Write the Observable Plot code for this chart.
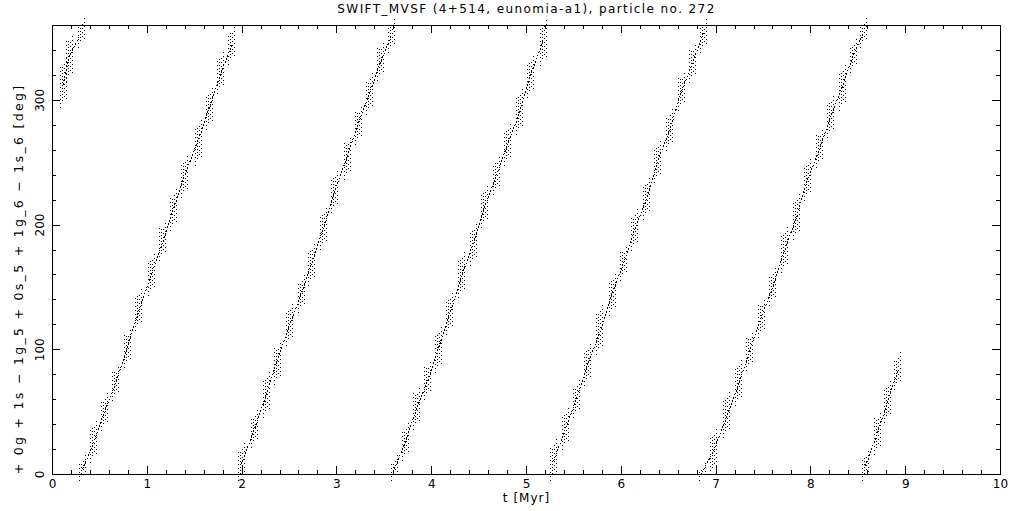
<!DOCTYPE html>
<html><head><meta charset="utf-8">
<script src="https://cdn.jsdelivr.net/npm/d3@7"></script>
<script src="https://cdn.jsdelivr.net/npm/@observablehq/plot@0.6"></script>
<style>
body{margin:0;background:#fff}
svg{display:block}
</style>
</head><body><div id="chart"></div>
<script>
const titleText = "SWIFT_MVSF (4+514, eunomia-a1), particle no. 272";
const xLabel = "t [Myr]";
const yLabel = "+ 0g + 1s \u2212 1g_5 + 0s_5 + 1g_6 \u2212 1s_6 [deg]";
const xMajorTicks = [0,1,2,3,4,5,6,7,8,9,10];
const yMajorTicks = [0,100,200,300];
const xMinorTicks = d3.range(0, 10.001, 0.2).filter(v => Math.abs(v - Math.round(v)) > 1e-6);
const yMinorTicks = d3.range(0, 360.001, 20).filter(v => v % 100 !== 0);

// clusters of points: band, time (Myr), centre angle, lowest and highest angle (deg)
const clusterBand = [
  1,1,1,
  2,2,2,2,2,2,2,2,2,2,2,2,2,2,
  3,3,3,3,3,3,3,3,3,3,3,3,3,3,
  4,4,4,4,4,4,4,4,4,4,4,4,4,4,
  5,5,5,5,5,5,5,5,5,5,5,5,5,5,
  6,6,6,6,6,6,6,6,6,6,6,6,6,6,6,
  7,7,7,7
];
const clusterT = [
  0.113,0.176,0.303,
  0.320,0.430,0.553,0.666,0.789,0.912,1.047,1.163,1.276,1.388,1.536,1.656,1.776,1.889,
  1.994,2.131,2.254,2.370,2.500,2.624,2.733,2.855,2.979,3.108,3.224,3.344,3.460,3.577,
  3.607,3.723,3.840,3.959,4.069,4.192,4.311,4.438,4.558,4.683,4.803,4.930,5.042,5.176,
  5.288,5.411,5.527,5.647,5.774,5.903,6.027,6.139,6.266,6.385,6.512,6.632,6.755,6.864,
  6.854,6.976,7.110,7.240,7.356,7.476,7.598,7.722,7.849,7.961,8.094,8.207,8.330,8.446,8.551,
  8.576,8.700,8.812,8.917
];
const clusterDeg = [
  313,335,354,
  4.6,24.6,51.3,72.7,102,131.5,161,186.3,213,238.5,268,294.6,321.4,344,
  8.6,36.6,63.4,91.4,119.5,145,169,197,227.8,254.5,281.3,305.3,330.7,352,
  4.6,26,52.7,75.4,100.8,128.9,158.3,185,214.4,239.8,265.3,290.6,320,348,
  11.2,36.6,60.7,88.8,114,145,170.3,195.7,221,251.9,276,306.7,330.7,353.5,
  2,19.3,46,72.7,99.5,126.2,150.2,179.7,206.4,235.8,261.2,286.6,310.7,336,354,
  7.2,32.6,59.4,83.4
];
const clusterLo = [
  300,321,348,
  0.5,15,40.6,64.7,91.4,120.9,149,177,201,227.8,253,282.6,310.7,334.7,
  0.5,27.3,51.3,78,108.8,135.6,157,186.3,215.8,242.5,270.6,294.6,321.4,344,
  0.5,16.6,42,66,87.4,118.2,147.6,173,203.7,230.5,253,278.6,308,333.4,
  0.5,26,51.3,76.8,102,132.9,161,185,210.4,239.8,265.3,297.4,320,344,
  0.5,5.9,35.3,60.7,88.8,115.5,140.9,167.6,194.4,225,251.9,276,297.4,328,348,
  0.5,21.9,47.3,74
];
const clusterHi = [
  327,347,359,
  9,38,59.4,82,111.5,143.6,171.7,197,222.4,250.5,278.6,304,333.4,353.5,
  19.3,46,76.8,100.8,131.5,153,179.7,207.7,238.5,265.3,290.6,314.7,341.4,359.4,
  9.9,35.3,64.7,86,111.5,139.6,171.7,195.7,225,249.2,276,302.6,330.7,358.8,
  21.9,47.3,70,99.5,128.9,155.6,178.3,206.4,231.8,262.5,286.6,317.4,340,359.4,
  3.5,30,59.4,86,108.8,135.6,159.6,191.7,218.4,247.9,271.9,297.4,321.4,344,358.8,
  13.9,44.7,70,91.4
];

const clusters = clusterT.map((t, i) => ({
  band: clusterBand[i], t, deg: clusterDeg[i], lo: clusterLo[i], hi: clusterHi[i]
}));

const W = 1021, H = 511;
const mL = 52, mR = 21, mT = 25, mB = 37;
const fw = W - mL - mR, fh = H - mT - mB;
const font = "DejaVu Sans, sans-serif";

// texture columns inside each cluster
const columns = [
  {dx:-3, dy: 4, inset: 4, dash: "1,3", off: 0},
  {dx:-1, dy: 1, inset: 1, dash: "1,2", off: 2},
  {dx: 1, dy:-1, inset: 1, dash: "1,3", off: 1},
  {dx: 3, dy:-4, inset: 4, dash: "1,3", off: 3}
];

const txt = {fill: "black", textAnchor: "middle", lineAnchor: "middle"};

const marks = [
  Plot.line(clusters, {x: "t", y: "deg", z: "band", stroke: "black", strokeWidth: 1, strokeDasharray: "1,2.5"}),
  ...columns.map(c => Plot.ruleX(clusters, {
    x: "t", y1: "lo", y2: "hi", dx: c.dx, dy: c.dy,
    insetTop: c.inset, insetBottom: c.inset,
    stroke: "black", strokeWidth: 1, strokeDasharray: c.dash, strokeDashoffset: c.off
  })),
  Plot.frame({stroke: "black", strokeWidth: 1}),
  // bottom & top ticks (inward)
  Plot.ruleX(xMajorTicks, {x: d => d, insetTop: fh - 8, stroke: "black"}),
  Plot.ruleX(xMinorTicks, {x: d => d, insetTop: fh - 4, stroke: "black"}),
  Plot.ruleX(xMajorTicks, {x: d => d, insetBottom: fh - 8, stroke: "black"}),
  Plot.ruleX(xMinorTicks, {x: d => d, insetBottom: fh - 4, stroke: "black"}),
  // left & right ticks (inward)
  Plot.ruleY(yMajorTicks, {y: d => d, insetRight: fw - 8, stroke: "black"}),
  Plot.ruleY(yMinorTicks, {y: d => d, insetRight: fw - 4, stroke: "black"}),
  Plot.ruleY(yMajorTicks, {y: d => d, insetLeft: fw - 8, stroke: "black"}),
  Plot.ruleY(yMinorTicks, {y: d => d, insetLeft: fw - 4, stroke: "black"}),
  // tick labels
  Plot.text(xMajorTicks, {x: d => d, frameAnchor: "bottom", dy: 10, text: d => String(d), fontSize: 12, ...txt}),
  Plot.text(yMajorTicks, {y: d => d, frameAnchor: "left", dx: -12.5, rotate: -90, text: d => String(d), fontSize: 12, ...txt}),
  // axis labels & title
  Plot.text([xLabel], {frameAnchor: "bottom", dy: 24, text: d => d, fontSize: 12, ...txt}),
  Plot.text([yLabel], {frameAnchor: "left", dx: -34, dy: 29, rotate: -90, text: d => d, fontSize: 12.5, ...txt}),
  Plot.text([titleText], {frameAnchor: "top", dy: -16, text: d => d, fontSize: 12, ...txt})
];

const chart = Plot.plot({
  width: W, height: H,
  marginLeft: mL, marginRight: mR, marginTop: mT, marginBottom: mB,
  style: {fontFamily: font, background: "white", shapeRendering: "crispEdges"},
  x: {domain: [0, 10], axis: null},
  y: {domain: [0, 360], axis: null},
  marks
});
// wider letter spacing like the original plotting font
const textGroups = chart.querySelectorAll('g[aria-label="text"]');
const n = textGroups.length;
textGroups[n - 1].setAttribute("letter-spacing", "1.4");
textGroups[n - 2].setAttribute("letter-spacing", "2.3");
textGroups[n - 3].setAttribute("letter-spacing", "1");
document.getElementById("chart").append(chart);
</script>
</body></html>
